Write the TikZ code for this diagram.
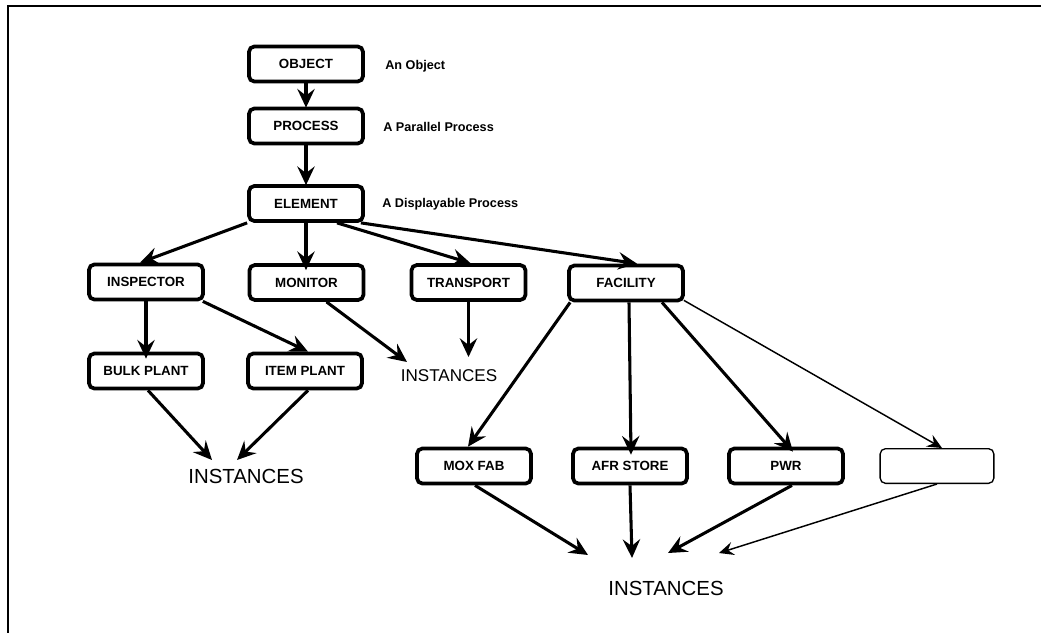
\documentclass[tikz,border=0pt]{standalone}
\usepackage{fontspec}
\setmainfont{Liberation Sans}
\usetikzlibrary{arrows.meta,calc}
\begin{document}
\begin{tikzpicture}[x=0.75pt,y=-0.75pt,
  cls/.style={draw, line width=2.8pt, rounded corners=4pt, fill=white,
    minimum width=85.5pt, minimum height=26.25pt, inner sep=0pt,
    font=\fontsize{10}{12}\selectfont\bfseries},
  blankcls/.style={draw, line width=1pt, rounded corners=4pt, fill=white,
    minimum width=85.3pt, minimum height=26pt, inner sep=0pt},
  note/.style={anchor=west, inner sep=0pt, font=\fontsize{9.5}{11}\selectfont\bfseries},
  inst/.style={inner sep=0pt, font=\fontsize{12.8}{14}\selectfont},
  instbig/.style={inner sep=0pt, font=\fontsize{15.3}{17}\selectfont},
  arr/.style={line width=2.3pt, -{Stealth[length=14pt,width=13pt,inset=5pt]}},
  thinarr/.style={line width=1.1pt, -{Stealth[length=11pt,width=10pt,inset=4pt]}}
]
\useasboundingbox (0,0) rectangle (1041,633);
\fill[white] (0,0) rectangle (1041,633);

% page frame
\draw[line width=1.2pt] (1041,6) -- (8,6) -- (8,633);

% class hierarchy
\node[cls] (obj)  at (306,64)    {OBJECT};
\node[cls] (proc) at (306,126)   {PROCESS};
\node[cls] (elem) at (306,203.5) {ELEMENT};

\node[note] (objnote)  at (385,66)  {An Object};
\node[note] (procnote) at (383,127) {A Parallel Process};
\node[note] (elemnote) at (382,204) {A Displayable Process};

\node[cls] (insp)  at (146,282)     {INSPECTOR};
\node[cls] (mon)   at (306.5,282.5) {MONITOR};
\node[cls] (trans) at (468.5,282.5) {TRANSPORT};
\node[cls] (fac)   at (626,283)     {FACILITY};

\node[cls] (bulk) at (146,371) {BULK PLANT};
\node[cls] (item) at (305,371) {ITEM PLANT};

\node[cls] (mox)   at (474,466) {MOX FAB};
\node[cls] (afr)   at (630,466) {AFR STORE};
\node[cls] (pwr)   at (786,466) {PWR};
\node[blankcls] (blank) at (937,466) {};

\node[inst]    (inst1) at (449,376) {INSTANCES};
\node[instbig] (inst2) at (246,476) {INSTANCES};
\node[instbig] (inst3) at (666,588) {INSTANCES};

% inheritance arrows
\draw[arr] (obj.south) -- ($(proc.north)+(0,1)$);
\draw[arr] (proc.south) -- ($(elem.north)+(0,1)$);
\draw[arr] (elem.south west) -- ($(insp.north)+(-6,0)$);
\draw[arr] (elem.south) -- ($(mon.north)+(-0.5,7)$);
\draw[arr] ($(elem.south)+(31,0)$) -- ($(trans.north)+(2,0)$);
\draw[arr] ($(elem.south east)+(-4,0)$) -- ($(fac.north)+(11,0)$);

\draw[arr] (insp.south) -- ($(bulk.north)+(0,7)$);
\draw[arr] ($(insp.south east)+(-2,0)$) -- ($(item.north)+(3,0)$);

\draw[arr] ($(mon.south)+(20,0)$) -- ($(inst1)+(-42,-14)$);
\draw[arr] (trans.south) -- ($(inst1)+(19.5,-19)$);

\draw[arr] ($(bulk.south)+(2,0)$) -- ($(inst2)+(-34,-16)$);
\draw[arr] ($(item.south)+(3,0)$) -- ($(inst2)+(-9,-16)$);

\draw[arr] ($(fac.south west)+(3,0)$) -- ($(mox.north)+(-6,0)$);
\draw[arr] ($(fac.south)+(3,0)$) -- ($(afr.north)+(1,8)$);
\draw[arr] ($(fac.south)+(36,0)$) -- ($(pwr.north)+(7,5)$);
\draw[thinarr] ($(fac.south east)+(-1,-2)$) -- ($(blank.north)+(5,0)$);

\draw[arr] ($(mox.south)+(1,0)$) -- ($(inst3)+(-78,-33)$);
\draw[arr] (afr.south) -- ($(inst3)+(-34,-30)$);
\draw[arr] ($(pwr.south)+(6,0)$) -- ($(inst3)+(2,-35)$);
\draw[thinarr] (blank.south) -- ($(inst3)+(53,-35)$);
\end{tikzpicture}
\end{document}
